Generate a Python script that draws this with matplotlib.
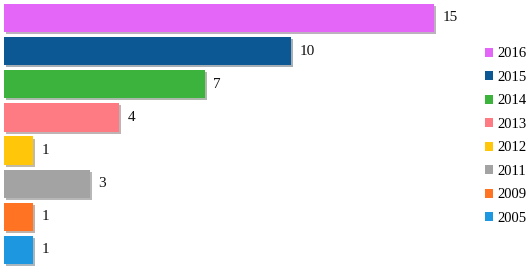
import matplotlib.pyplot as plt
import matplotlib.patheffects as pe
from matplotlib.patches import Patch

years = ['2016', '2015', '2014', '2013', '2012', '2011', '2009', '2005']
counts = [15, 10, 7, 4, 1, 3, 1, 1]
colors = ['#e466f8', '#0b5895', '#3cb33c', '#ff7b84', '#ffc60a', '#a3a3a3', '#ff7322', '#1d98e0']

plt.rcParams['font.family'] = ['Liberation Serif', 'DejaVu Serif']

fig = plt.figure(figsize=(5.26, 2.72), dpi=100)
ax = fig.add_axes([4 / 526, 0, 466 / 526, 1])

pos = list(range(len(years)))
bars = ax.barh(pos, counts, height=0.85, color=colors)
for b in bars:
    b.set_path_effects([pe.SimplePatchShadow(offset=(1.5, -1.5), alpha=0.35), pe.Normal()])

for p, v in zip(pos, counts):
    ax.text(v + 0.3, p, str(v), va='center', ha='left', fontsize=11, color='#111111')

ax.set_xlim(0, 16.25)
ax.set_ylim(7.664, -0.543)
ax.axis('off')

handles = [Patch(facecolor=c, edgecolor='none') for c in colors]
fig.legend(handles, years, loc='upper left', bbox_to_anchor=(478 / 526, 1 - 40 / 272),
           frameon=False, fontsize=10.5, handlelength=0.55, handleheight=0.55,
           handletextpad=0.25, labelspacing=0.72, borderpad=0)

fig.savefig('out.png', dpi=100)
